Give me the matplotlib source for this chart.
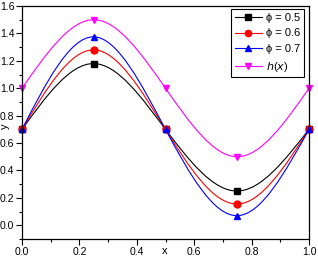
import numpy as np
import matplotlib.pyplot as plt
from matplotlib.path import Path
from matplotlib.patches import PathPatch
from matplotlib.lines import Line2D

plt.rcParams['font.family'] = ['Liberation Sans', 'DejaVu Sans']

# data
x = [0.0, 0.25, 0.5, 0.75, 1.0]
y_phi05 = [0.70, 1.18, 0.70, 0.25, 0.70]
y_phi06 = [0.70, 1.28, 0.70, 0.155, 0.70]
y_phi07 = [0.70, 1.375, 0.70, 0.07, 0.70]
y_h = [1.0, 1.5, 1.0, 0.5, 1.0]

labels = ['\u03d5 = 0.5', '\u03d5 = 0.6', '\u03d5 = 0.7', '$h$($x$)']
colors = ['black', 'red', 'blue', 'magenta']
markers = ['s', 'o', '^', 'v']


def spline_path(xs, ys):
    # natural cubic spline written as bezier segments (like Origin's spline connect)
    xs = np.asarray(xs, float)
    ys = np.asarray(ys, float)
    n = len(xs)
    h = np.diff(xs)
    A = np.zeros((n, n))
    b = np.zeros(n)
    A[0, 0] = A[-1, -1] = 1
    for i in range(1, n - 1):
        A[i, i - 1] = h[i - 1]
        A[i, i] = 2 * (h[i - 1] + h[i])
        A[i, i + 1] = h[i]
        b[i] = 6 * ((ys[i + 1] - ys[i]) / h[i] - (ys[i] - ys[i - 1]) / h[i - 1])
    M = np.linalg.solve(A, b)
    d = np.zeros(n)
    for i in range(n - 1):
        d[i] = (ys[i + 1] - ys[i]) / h[i] - h[i] * (2 * M[i] + M[i + 1]) / 6
    d[-1] = (ys[-1] - ys[-2]) / h[-1] + h[-1] * (M[-2] + 2 * M[-1]) / 6
    verts = [(xs[0], ys[0])]
    codes = [Path.MOVETO]
    for i in range(n - 1):
        t = h[i] / 3
        verts += [(xs[i] + t, ys[i] + d[i] * t),
                  (xs[i + 1] - t, ys[i + 1] - d[i + 1] * t),
                  (xs[i + 1], ys[i + 1])]
        codes += [Path.CURVE4] * 3
    return Path(verts, codes)


fig = plt.figure(figsize=(3.18, 2.59), dpi=100)
ax = fig.add_axes([22 / 318, 1 - 239 / 259, 287 / 318, 233 / 259])

series = [y_phi05, y_phi06, y_phi07, y_h]
handles = []
for ys, c, m, lab in zip(series, colors, markers, labels):
    ax.add_patch(PathPatch(spline_path(x, ys), facecolor='none', edgecolor=c, lw=0.8))
    ax.plot(x, ys, linestyle='none', marker=m, color=c, markersize=5, clip_on=False)
    handles.append(Line2D([], [], color=c, marker=m, markersize=4.5, lw=0.8, label=lab))

ax.set_xlim(0, 1.0)
ax.set_ylim(-0.1, 1.6)
ax.set_xticks(np.arange(0, 1.01, 0.2))
ax.set_xticks(np.arange(0, 1.01, 0.1), minor=True)
ax.set_yticks(np.arange(0, 1.61, 0.2))
ax.set_yticks(np.arange(-0.1, 1.61, 0.1), minor=True)
ax.xaxis.set_major_formatter(plt.FormatStrFormatter('%.1f'))
ax.yaxis.set_major_formatter(plt.FormatStrFormatter('%.1f'))
ax.tick_params(which='both', direction='out', labelsize=7.5, width=0.8, pad=1.5)
ax.tick_params(which='major', length=4)
ax.tick_params(which='minor', length=2)
for s in ax.spines.values():
    s.set_linewidth(0.9)

ax.set_xlabel('x', fontsize=8, va='center')
ax.set_ylabel('y', fontsize=8, va='center')
ax.xaxis.set_label_coords(0.497, -0.052)
ax.yaxis.set_label_coords(-0.06, 0.485)

leg = ax.legend(handles=handles, loc='upper right', bbox_to_anchor=(0.983, 0.987),
                fontsize=8, frameon=True, fancybox=False, edgecolor='black',
                framealpha=1, handlelength=2.4, handletextpad=0.4,
                labelspacing=0.5, borderpad=0.35, borderaxespad=0)
leg.get_frame().set_linewidth(0.8)

fig.savefig('out.png', dpi=100)
